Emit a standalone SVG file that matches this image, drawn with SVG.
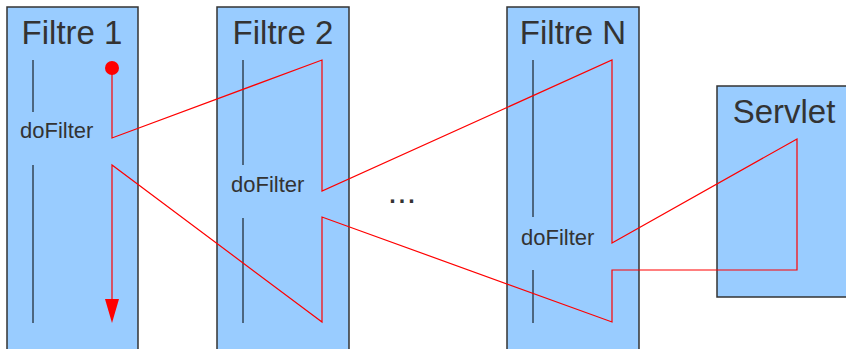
<svg xmlns="http://www.w3.org/2000/svg" width="846" height="349" viewBox="0 0 846 349">
<style>
.box{fill:#99ccff;stroke:#333;stroke-width:1.5}
.title{font-family:"Liberation Sans",Arial,sans-serif;font-size:33px;fill:#333;text-anchor:middle}
.lbl{font-family:"Liberation Sans",Arial,sans-serif;font-size:22px;fill:#333}
.life{stroke:#000;stroke-width:1}
.flow{fill:none;stroke:#ff0000;stroke-width:1.2}
</style>
<g id="filtre1">
<rect class="box" x="7" y="7" width="131" height="360"/>
<text class="title" x="72" y="44">Filtre 1</text>
<line class="life" x1="33" y1="60" x2="33" y2="112"/>
<line class="life" x1="33" y1="165" x2="33" y2="323"/>
<text class="lbl" x="20" y="138">doFilter</text>
</g>
<g id="filtre2">
<rect class="box" x="217" y="7" width="132" height="360"/>
<text class="title" x="283" y="44">Filtre 2</text>
<line class="life" x1="243" y1="60" x2="243" y2="165"/>
<line class="life" x1="243" y1="218" x2="243" y2="323"/>
<text class="lbl" x="231" y="192">doFilter</text>
</g>
<g id="ellipsis">
<text class="title" x="402" y="203" style="font-size:34px">...</text>
</g>
<g id="filtreN">
<rect class="box" x="507" y="7" width="132" height="360"/>
<text class="title" x="573" y="44">Filtre N</text>
<line class="life" x1="533" y1="60" x2="533" y2="217"/>
<line class="life" x1="533" y1="270" x2="533" y2="323"/>
<text class="lbl" x="521" y="245">doFilter</text>
</g>
<g id="servlet">
<rect class="box" x="717" y="86" width="140" height="211"/>
<text class="title" x="784" y="123">Servlet</text>
</g>
<g id="connectors">
<circle cx="112" cy="68" r="7" fill="#ff0000"/>
<path class="flow" d="M112,68 L112,138 L322,60 L322,191 L612,60 L612,243 L797,139 L797,270 L612,270 L612,322 L322,217 L322,322 L112,165 L112,300"/>
<path d="M105,299 L119,299 L112,323 Z" fill="#ff0000"/>
</g>
</svg>
